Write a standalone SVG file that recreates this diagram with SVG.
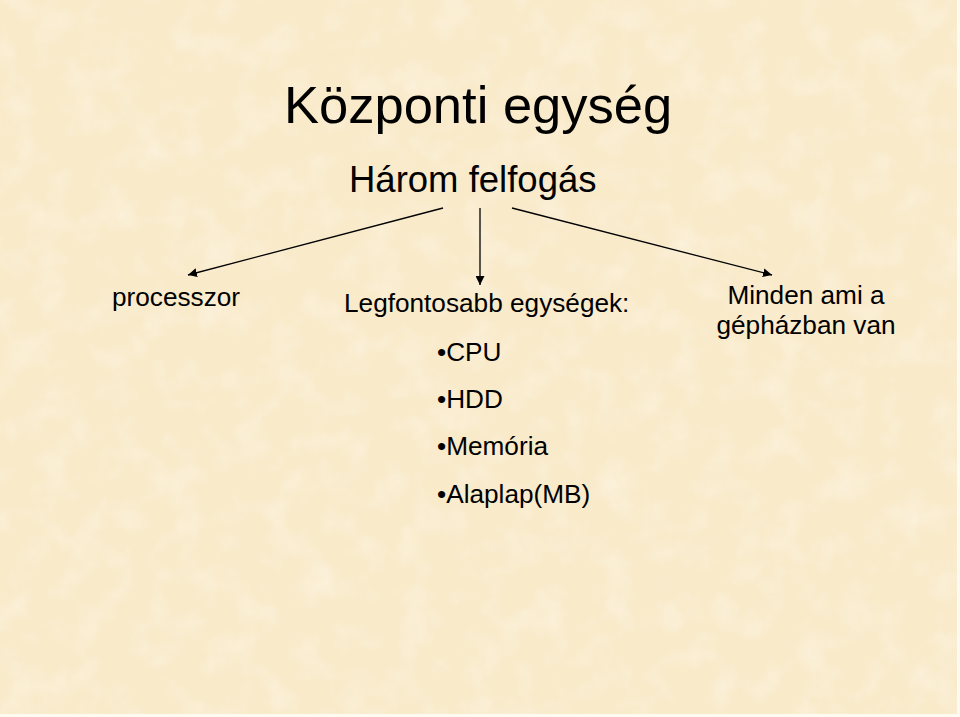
<svg xmlns="http://www.w3.org/2000/svg" width="960" height="717" viewBox="0 0 960 717">
<defs>
<style>
text{font-family:"Liberation Sans",Arial,sans-serif;fill:#000}
.t{font-size:52.5px}
.s{font-size:36.5px}
.n{font-size:26.2px}
.c{stroke:#000;stroke-width:1.3;fill:none;marker-end:url(#ah)}
</style>
<marker id="ah" viewBox="0 0 10 10" refX="10" refY="5" markerWidth="9" markerHeight="9" markerUnits="userSpaceOnUse" orient="auto">
<path d="M0,0L10,5L0,10z" fill="#000"/>
</marker>
<filter id="tex" x="0" y="0" width="100%" height="100%">
<feTurbulence type="fractalNoise" baseFrequency="0.03" numOctaves="3" seed="7"/>
<feColorMatrix type="matrix" values="0 0 0 0 1  0 0 0 0 0.98  0 0 0 0 0.93  0 0 0 1.4 -0.65"/>
</filter>
<filter id="tex2" x="0" y="0" width="100%" height="100%">
<feTurbulence type="fractalNoise" baseFrequency="0.04" numOctaves="2" seed="21"/>
<feColorMatrix type="matrix" values="0 0 0 0 0.93  0 0 0 0 0.84  0 0 0 0 0.62  0 0 0 1.4 -0.7"/>
</filter>
</defs>
<rect width="960" height="717" fill="#F9EACA"/>
<rect width="960" height="717" filter="url(#tex2)" opacity="0.3"/>
<rect width="960" height="717" filter="url(#tex)" opacity="0.55"/>
<rect x="957" y="0" width="3" height="717" fill="#FFFBF0"/>
<rect x="0" y="714" width="960" height="3" fill="#FFFBF0"/>
<g id="title"><text class="t" x="284" y="123">Központi egység</text></g>
<g id="root"><text class="s" x="349" y="192">Három felfogás</text></g>
<g id="connectors">
<line class="c" x1="443" y1="208" x2="188" y2="275"/>
<line class="c" x1="480" y1="208" x2="480" y2="285"/>
<line class="c" x1="512" y1="208" x2="772" y2="275"/>
</g>
<g id="processzor"><text class="n" x="112" y="306">processzor</text></g>
<g id="egysegek">
<text class="n" x="344" y="312">Legfontosabb egységek:</text>
<text class="n" x="437" y="361">•CPU</text>
<text class="n" x="437" y="408">•HDD</text>
<text class="n" x="437" y="455">•Memória</text>
<text class="n" x="437" y="503">•Alaplap(MB)</text>
</g>
<g id="gephaz">
<text class="n" x="806" y="304" text-anchor="middle">Minden ami a</text>
<text class="n" x="806" y="334" text-anchor="middle">gépházban van</text>
</g>
</svg>
